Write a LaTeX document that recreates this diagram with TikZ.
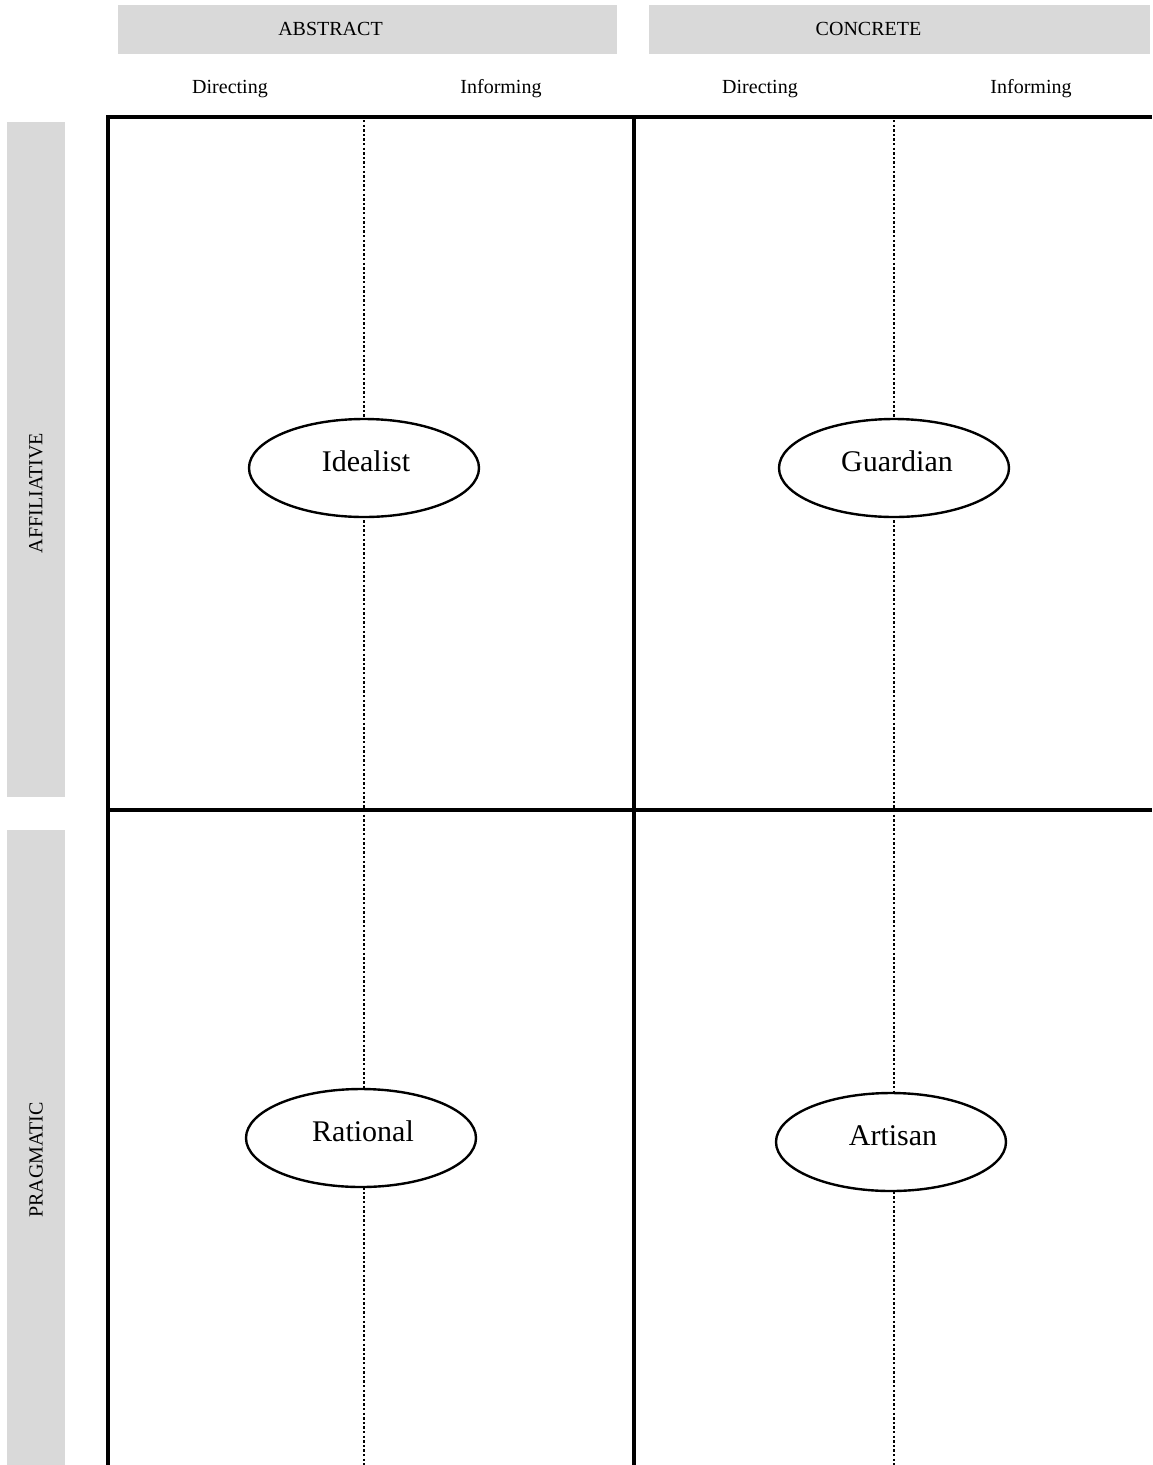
\documentclass[tikz,border=0pt]{standalone}
\usepackage{fontspec}
\setmainfont{Liberation Serif}
\usetikzlibrary{shapes.geometric}
\definecolor{hdrgray}{HTML}{D9D9D9}
\begin{document}
\begin{tikzpicture}[x=1pt,y=-1pt,
  hdrbox/.style={fill=hdrgray,draw=none,inner sep=0pt,minimum width=#1},
  hdrtext/.style={font=\fontsize{20}{24}\selectfont,anchor=base,inner sep=0pt},
  sidetext/.style={font=\fontsize{20}{24}\selectfont,rotate=90,inner sep=0pt},
  gridline/.style={line width=3.2pt},
  dotline/.style={line width=2.4pt,dash pattern=on 2.4pt off 2.2pt},
  typebox/.style={ellipse,draw,line width=2.4pt,minimum width=230pt,minimum height=98pt,inner sep=0pt,fill=white},
  typetext/.style={font=\fontsize{30}{36}\selectfont,anchor=base,inner sep=0pt}]
\useasboundingbox (0,0) rectangle (1152,1465);
% header boxes
\node[hdrbox=499pt,minimum height=49pt] (absbox) at (367.5,29.5) {};
\node[hdrbox=501pt,minimum height=49pt] (conbox) at (899.5,29.5) {};
\node[hdrtext] (abstxt) at (330.5,35) {ABSTRACT};
\node[hdrtext] (contxt) at (868.5,35) {CONCRETE};
% sub labels
\node[hdrtext] (dir1) at (230,93) {Directing};
\node[hdrtext] (inf1) at (501,93) {Informing};
\node[hdrtext] (dir2) at (760,93) {Directing};
\node[hdrtext] (inf2) at (1031,93) {Informing};
% side boxes
\node[hdrbox=58pt,minimum height=675pt] (affbox) at (36,459.5) {};
\node[hdrbox=58pt,minimum height=635pt] (pragbox) at (36,1147.5) {};
\node[sidetext] (afftxt) at (36,493) {AFFILIATIVE};
\node[sidetext] (pragtxt) at (36,1160) {PRAGMATIC};
% grid coordinates
\coordinate (tl) at (108,117);
\coordinate (tr) at (1152,117);
\coordinate (bl) at (108,1465);
\coordinate (mt) at (634,117);
\coordinate (mb) at (634,1465);
\coordinate (ml) at (108,810);
\coordinate (mr) at (1152,810);
\draw[gridline] (bl) -- (tl) -- (tr);
\draw[gridline] (mt) -- (mb);
\draw[gridline] (ml) -- (mr);
% dotted lines
\coordinate (d1t) at (364,120);
\coordinate (d1b) at (364,1465);
\coordinate (d2t) at (894,120);
\coordinate (d2b) at (894,1465);
\draw[dotline] (d1t) -- (d1b);
\draw[dotline] (d2t) -- (d2b);
% ellipses
\node[typebox] (idealist) at (364,468) {};
\node[typebox] (guardian) at (894,468) {};
\node[typebox] (rational) at (361,1138) {};
\node[typebox] (artisan) at (891,1142) {};
\node[typetext] (idealistT) at (366,471) {Idealist};
\node[typetext] (guardianT) at (897,471) {Guardian};
\node[typetext] (rationalT) at (363,1141) {Rational};
\node[typetext] (artisanT) at (893,1145) {Artisan};
\end{tikzpicture}
\end{document}
